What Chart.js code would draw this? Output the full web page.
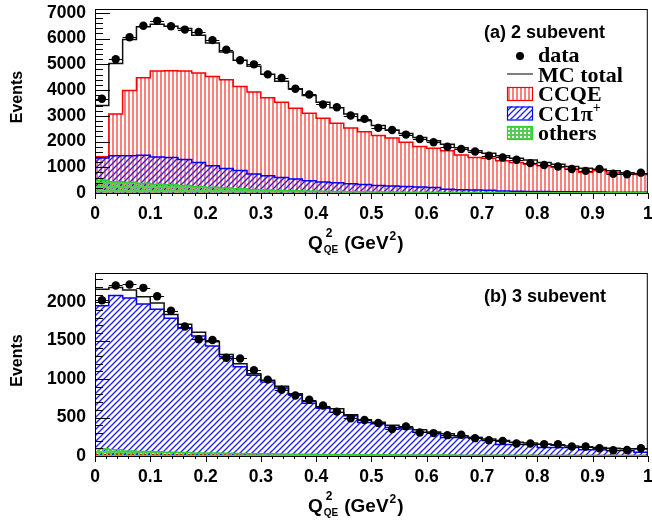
<!DOCTYPE html>
<html>
<head>
<meta charset="utf-8">
<script src="https://cdn.jsdelivr.net/npm/chart.js@4"></script>
<style>
  body { margin: 0; background: #fff; }
  canvas { position: absolute; left: 0; }
</style>
</head>
<body>
<canvas id="chartA" width="652" height="261" style="top:0"></canvas>
<canvas id="chartB" width="652" height="261" style="top:261px"></canvas>
<script>
// 40 bins of Q2_QE between 0 and 1 GeV^2
const nBins = 40;
const xMin = 0, xMax = 1;
const xTickValues = [0, 0.1, 0.2, 0.3, 0.4, 0.5, 0.6, 0.7, 0.8, 0.9, 1];
const xTickLabels = ["0", "0.1", "0.2", "0.3", "0.4", "0.5", "0.6", "0.7", "0.8", "0.9", "1"];

// ---------- (a) 2 subevent ----------
const yTickValuesA = [0, 1000, 2000, 3000, 4000, 5000, 6000, 7000];
const yTickLabelsA = ["0", "1000", "2000", "3000", "4000", "5000", "6000", "7000"];
const dataA = [3660, 5200, 6050, 6500, 6690, 6480, 6350, 6260, 5940, 5570, 5160, 5000, 4610, 4470, 4050, 3830, 3440, 3330, 3010, 2880,
               2530, 2450, 2270, 2100, 1970, 1800, 1710, 1610, 1450, 1380, 1290, 1160, 1090, 1030, 930, 860, 930, 750, 730, 790];
const mcA = [3400, 5030, 5960, 6460, 6560, 6480, 6390, 6130, 5830, 5480, 5160, 4930, 4610, 4340, 4050, 3790, 3530, 3310, 3070, 2810,
             2620, 2450, 2310, 2160, 2030, 1890, 1760, 1640, 1540, 1450, 1350, 1280, 1190, 1120, 1030, 960, 920, 860, 790, 750];
const ccqeA = [1410, 3070, 3980, 4480, 4740, 4750, 4740, 4660, 4530, 4400, 4140, 3920, 3700, 3530, 3290, 3100, 2900, 2710, 2530, 2380,
               2230, 2140, 1970, 1810, 1740, 1640, 1480, 1380, 1350, 1250, 1190, 1120, 1060, 1000, 930, 810, 870, 780, 740, 720];
const cc1piA = [1360, 1450, 1450, 1470, 1400, 1380, 1300, 1190, 1060, 950, 870, 740, 670, 600, 540, 480, 430, 400, 360, 330,
                290, 270, 250, 230, 210, 150, 130, 120, 110, 80, 70, 60, 60, 50, 50, 40, 40, 30, 30, 30];
const othersA = [500, 440, 420, 380, 340, 320, 290, 250, 220, 190, 170, 140, 120, 100, 90, 80, 70, 60, 50, 45,
                 40, 35, 30, 28, 25, 22, 20, 18, 16, 15, 14, 12, 11, 10, 10, 9, 8, 8, 7, 7];

// ---------- (b) 3 subevent ----------
const yTickValuesB = [0, 500, 1000, 1500, 2000];
const yTickLabelsB = ["0", "500", "1000", "1500", "2000"];
const dataB = [2025, 2218, 2231, 2187, 2078, 1890, 1684, 1518, 1509, 1277, 1269, 1115, 993, 862, 787, 731, 656, 577, 490, 468,
               429, 350, 385, 306, 298, 271, 276, 232, 206, 197, 162, 162, 153, 153, 123, 123, 101, 74, 79, 101];
const mcB = [2170, 2190, 2160, 2070, 1990, 1840, 1715, 1610, 1487, 1320, 1200, 1070, 984, 906, 810, 713, 634, 613, 538, 470,
             440, 400, 370, 340, 310, 290, 260, 240, 220, 200, 180, 170, 155, 140, 130, 120, 110, 100, 95, 90];
const ccqeB = [20, 25, 22, 20, 18, 17, 16, 15, 14, 13, 12, 12, 11, 11, 10, 10, 10, 9, 9, 9,
               8, 8, 8, 8, 7, 7, 7, 7, 6, 6, 6, 6, 6, 5, 5, 5, 5, 5, 5, 5];
const cc1piB = [1955, 2087, 2055, 1977, 1910, 1790, 1660, 1560, 1430, 1290, 1160, 1050, 962, 884, 796, 687, 621, 569, 525, 437,
                420, 370, 350, 310, 310, 240, 240, 240, 200, 150, 150, 150, 110, 110, 110, 80, 80, 70, 70, 50];
const othersB = [95, 80, 65, 60, 55, 50, 45, 40, 38, 35, 32, 30, 28, 26, 24, 22, 20, 19, 18, 17,
                 16, 15, 14, 13, 12, 12, 11, 11, 10, 10, 9, 9, 8, 8, 8, 7, 7, 6, 6, 6];

const binW = (xMax - xMin) / nBins;
const edges = Array.from({ length: nBins + 1 }, (_, i) => xMin + i * binW);

// ---------- fill patterns ----------
function makePattern(w, h, draw) {
  const c = document.createElement("canvas");
  c.width = w; c.height = h;
  const g = c.getContext("2d");
  draw(g);
  return g.createPattern(c, "repeat");
}
const redStripes = makePattern(4, 4, g => {
  g.fillStyle = "#ff7f7f";
  g.fillRect(0, 0, 2, 4);
});
const blueHatch = makePattern(6, 6, g => {
  g.strokeStyle = "#1f1fff";
  g.lineWidth = 1.3;
  [[0, 6, 6, 0], [-1, 1, 1, -1], [5, 7, 7, 5]].forEach(([a, b, c, d]) => {
    g.beginPath(); g.moveTo(a, b); g.lineTo(c, d); g.stroke();
  });
});
const greenCheck = makePattern(4, 4, g => {
  g.fillStyle = "#55cc55";
  g.fillRect(0, 0, 4, 4);
  g.clearRect(0, 0, 2, 2);
});

// histogram outline as stepped points at bin edges
function histPoints(vals) {
  const pts = vals.map((v, i) => ({ x: edges[i], y: v }));
  pts.push({ x: edges[nBins], y: vals[nBins - 1] });
  return pts;
}

const FONT = "Liberation Sans";

function decorPlugin(opts) {
  return {
    id: "decor",
    afterDatasetsDraw(chart) {
      const ctx = chart.ctx;
      const a = chart.chartArea;
      const xs = chart.scales.x, ys = chart.scales.y;
      ctx.save();

      // error bars of the data points (bin width)
      ctx.strokeStyle = "#000";
      ctx.lineWidth = 1;
      opts.data.forEach((v, i) => {
        const y = Math.round(ys.getPixelForValue(v)) + 0.5;
        ctx.beginPath();
        ctx.moveTo(xs.getPixelForValue(edges[i]), y);
        ctx.lineTo(xs.getPixelForValue(edges[i + 1]), y);
        ctx.stroke();
      });

      // ticks: x outward, y inward
      for (let i = 0; i <= 50; i++) {
        const px = Math.round(xs.getPixelForValue(i * 0.02)) + 0.5;
        ctx.beginPath();
        ctx.moveTo(px, a.bottom);
        ctx.lineTo(px, a.bottom + (i % 5 === 0 ? 6 : 3));
        ctx.stroke();
      }
      for (let v = 0; v <= opts.yMax; v += opts.yMinor) {
        const py = Math.round(ys.getPixelForValue(v)) + 0.5;
        ctx.beginPath();
        ctx.moveTo(a.left, py);
        ctx.lineTo(a.left + (v % opts.yMajor === 0 ? 15 : 8), py);
        ctx.stroke();
      }

      // frame
      ctx.strokeRect(a.left + 0.5, a.top + 0.5, a.right - a.left - 1, a.bottom - a.top);

      // axis titles
      ctx.fillStyle = "#000";
      ctx.textAlign = "left";
      ctx.textBaseline = "alphabetic";
      let x = 308;
      const yb = a.bottom + 56;
      ctx.font = `bold 19px "${FONT}"`;
      ctx.fillText("Q", x, yb);
      x += ctx.measureText("Q").width + 1;
      ctx.font = `bold 12px "${FONT}"`;
      ctx.fillText("2", x + 2, yb - 12);
      ctx.font = `bold 10px "${FONT}"`;
      ctx.fillText("QE", x, yb + 4);
      x += ctx.measureText("QE").width + 6;
      ctx.font = `bold 19px "${FONT}"`;
      ctx.fillText("(GeV", x, yb);
      x += ctx.measureText("(GeV").width + 1;
      ctx.font = `bold 12px "${FONT}"`;
      ctx.fillText("2", x, yb - 9);
      x += ctx.measureText("2").width + 1;
      ctx.font = `bold 19px "${FONT}"`;
      ctx.fillText(")", x, yb);

      ctx.save();
      ctx.translate(18, (a.top + a.bottom) / 2 - 4);
      ctx.rotate(-Math.PI / 2);
      ctx.textAlign = "center";
      ctx.textBaseline = "middle";
      ctx.font = `bold 16px "${FONT}"`;
      ctx.fillText("Events", 0, 0);
      ctx.restore();

      // panel label
      ctx.font = `bold 18px "${FONT}"`;
      ctx.fillText(opts.label, 484, a.top + 29);

      if (opts.legend) drawLegend(ctx);
      ctx.restore();
    }
  };
}

function drawLegend(ctx) {
  const bx = 507, bw = 26, tx = 538;
  const rows = [62, 81.5, 101, 120.5, 140];
  ctx.font = `bold 22px "Liberation Serif"`;
  ctx.fillStyle = "#000";
  // data
  ctx.beginPath();
  ctx.arc(bx + bw / 2, rows[0] - 6, 4, 0, Math.PI * 2);
  ctx.fill();
  ctx.fillText("data", tx, rows[0]);
  // MC total
  ctx.strokeStyle = "#555";
  ctx.lineWidth = 1.5;
  ctx.beginPath();
  ctx.moveTo(bx, rows[1] - 7.5); ctx.lineTo(bx + bw, rows[1] - 7.5);
  ctx.stroke();
  ctx.fillText("MC total", tx, rows[1]);
  // boxes
  const boxes = [
    [redStripes, "#ff0000", "CCQE"],
    [blueHatch, "#0000ff", "CC1\u03c0"],
    [greenCheck, "#33cc33", "others"]
  ];
  boxes.forEach(([pat, col, txt], k) => {
    const yb = rows[k + 2];
    ctx.fillStyle = pat;
    ctx.fillRect(bx, yb - 14, bw, 13);
    ctx.strokeStyle = col;
    ctx.lineWidth = 1.2;
    ctx.strokeRect(bx + 0.5, yb - 14 + 0.5, bw - 1, 13);
    ctx.fillStyle = "#000";
    ctx.font = `bold 22px "Liberation Serif"`;
    ctx.fillText(txt, tx, yb);
    if (k === 1) {
      const w = ctx.measureText(txt).width;
      ctx.font = `bold 14px "Liberation Serif"`;
      ctx.fillText("+", tx + w, yb - 9);
    }
  });
}

function histDataset(vals, line, fill, order) {
  return {
    data: histPoints(vals),
    stepped: true,
    borderColor: line,
    borderWidth: 1.5,
    backgroundColor: fill || "transparent",
    fill: fill ? "origin" : false,
    pointRadius: 0,
    order: order
  };
}

function makeChart(id, p) {
  return new Chart(document.getElementById(id), {
    type: "line",
    data: {
      datasets: [
        histDataset(p.ccqe, "#ff0000", redStripes, 5),
        histDataset(p.cc1pi, "#0000ff", blueHatch, 4),
        histDataset(p.others, "#33cc33", greenCheck, 3),
        histDataset(p.mc, "#111", null, 2),
        {
          data: p.data.map((v, i) => ({ x: (edges[i] + edges[i + 1]) / 2, y: v })),
          showLine: false,
          pointRadius: 4.2,
          pointBackgroundColor: "#000",
          pointBorderColor: "#000",
          pointBorderWidth: 0,
          order: 1
        }
      ]
    },
    options: {
      responsive: false,
      animation: false,
      layout: { padding: { left: 0, right: 2, top: p.top, bottom: 0 } },
      plugins: { legend: { display: false }, tooltip: { enabled: false } },
      scales: {
        x: {
          type: "linear", min: xMin, max: xMax,
          grid: { display: false, drawTicks: false },
          border: { display: false },
          ticks: {
            padding: 11, color: "#000", maxRotation: 0, autoSkip: false,
            font: { family: FONT, weight: "bold", size: 17.5 },
            callback: (v, i) => xTickLabels[i]
          },
          afterBuildTicks: s => { s.ticks = xTickValues.map(v => ({ value: v })); },
          afterFit: s => { s.height = p.xh; s.paddingLeft = 0; s.paddingRight = 0; }
        },
        y: {
          type: "linear", min: 0, max: p.yMax,
          grid: { display: false, drawTicks: false },
          border: { display: false },
          ticks: {
            padding: 9, color: "#000", autoSkip: false,
            font: { family: FONT, weight: "bold", size: 17.5 },
            callback: (v, i) => p.yTickLabels[i]
          },
          afterBuildTicks: s => { s.ticks = p.yTickValues.map(v => ({ value: v })); },
          afterFit: s => { s.width = 95; s.paddingTop = 0; s.paddingBottom = 0; }
        }
      }
    },
    plugins: [decorPlugin({
      data: p.data, yMax: p.yMax, yMajor: p.yMajor, yMinor: p.yMinor,
      label: p.label, legend: p.legend
    })]
  });
}

makeChart("chartA", {
  data: dataA, mc: mcA, ccqe: ccqeA, cc1pi: cc1piA, others: othersA,
  yMax: 7150, yMajor: 1000, yMinor: 200,
  yTickValues: yTickValuesA, yTickLabels: yTickLabelsA,
  top: 9, xh: 68, label: "(a) 2 subevent", legend: true
});
makeChart("chartB", {
  data: dataB, mc: mcB, ccqe: ccqeB, cc1pi: cc1piB, others: othersB,
  yMax: 2380, yMajor: 500, yMinor: 100,
  yTickValues: yTickValuesB, yTickLabels: yTickLabelsB,
  top: 12, xh: 66, label: "(b) 3 subevent", legend: false
});
</script>
</body>
</html>
